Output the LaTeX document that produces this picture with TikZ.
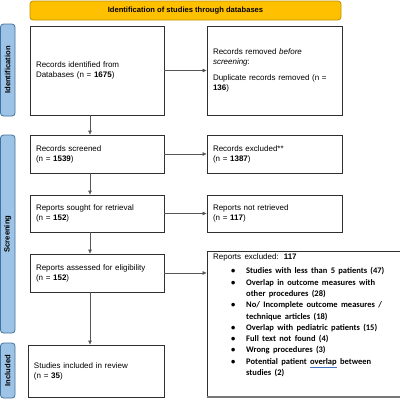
\documentclass[tikz,border=0pt]{standalone}
\usepackage{fontspec}
\setmainfont{Liberation Sans}
\newfontfamily\calibri{Carlito}
\usetikzlibrary{arrows.meta}
\definecolor{banner}{HTML}{FFC000}
\definecolor{bannerd}{HTML}{BF9000}
\definecolor{side}{HTML}{9DC3E6}
\definecolor{sided}{HTML}{41719C}
\definecolor{boxc}{HTML}{2F2F2F}
\definecolor{arrc}{HTML}{555555}
\definecolor{ulblue}{HTML}{4472C4}
\newcommand\bitem[1]{\par\hangindent=33pt\hangafter=1\noindent\hspace*{18pt}\makebox[15pt][l]{\textbullet}#1}
\begin{document}
\begin{tikzpicture}[x=1pt,y=-1pt,
  box/.style={draw=boxc, line width=0.9pt, inner xsep=6pt, inner ysep=0pt, align=left, font=\fontsize{8}{10}\selectfont},
  sidelab/.style={draw=sided, fill=side, rounded corners=3pt, line width=0.8pt, rotate=90, inner sep=0pt, font=\bfseries\fontsize{7.6}{8}\selectfont},
  arr/.style={draw=arrc, line width=0.6pt, -{Triangle[length=4pt,width=3.5pt]}}
]
\useasboundingbox (0,0) rectangle (400,400);
% banner
\node[draw=bannerd, fill=banner, rounded corners=3pt, line width=0.8pt, minimum width=311pt, minimum height=19pt, inner sep=0pt, font=\bfseries\fontsize{7.6}{9}\selectfont] (banner) at (185.5,10.5) {Identification of studies through databases};
% side labels
\node[sidelab, minimum width=92pt, minimum height=14.5pt] (sid) at (7.75,70) {Identification};
\node[sidelab, minimum width=198pt, minimum height=14.5pt] (sscr) at (7.75,234) {Screening};
\node[sidelab, minimum width=55pt, minimum height=14.5pt] (sinc) at (7.75,370.5) {Included};
% left boxes
\node[box, minimum width=134pt, minimum height=89pt, text width=122pt] (ident) at (97,70.5) {Records identified from\\Databases (n = \textbf{1675})};
\node[box, minimum width=134pt, minimum height=38pt, text width=122pt] (screen) at (97,154) {Records screened\\(n = \textbf{1539})};
\node[box, minimum width=134pt, minimum height=37pt, text width=122pt] (sought) at (97,213.5) {Reports sought for retrieval\\(n = \textbf{152})};
\node[box, minimum width=134pt, minimum height=38pt, text width=122pt] (assess) at (97,273) {Reports assessed for eligibility\\(n = \textbf{152})};
\node[box, minimum width=136pt, minimum height=52pt, text width=124pt] (incl) at (96,371) {Studies included in review\\(n = \textbf{35})};
% right boxes
\node[box, minimum width=135pt, minimum height=89pt, text width=123pt] (removed) at (274.5,70.5) {Records removed \textit{before}\\\textit{screening}:\\[6pt]Duplicate records removed (n =\\\textbf{136})};
\node[box, minimum width=135pt, minimum height=38pt, text width=123pt] (excl) at (274.5,154) {Records excluded**\\(n = \textbf{1387})};
\node[box, minimum width=135pt, minimum height=37pt, text width=123pt] (notret) at (274.5,213.5) {Reports not retrieved\\(n = \textbf{117})};
\node[draw=boxc, line width=0.9pt, minimum width=196pt, minimum height=146pt, inner sep=0pt] (repexc) at (305,324) {};
\draw[draw=arrc!80, line width=2pt] (repexc.south west) -- (repexc.south east);
\node[anchor=north west, inner sep=0pt, text width=185pt, align=left] (exctext) at (213,253.5) {%
{\fontsize{8}{10}\selectfont Reports excluded: \textbf{117}}\par\vspace{3pt}
{\calibri\bfseries\fontsize{8.5}{11.3}\selectfont
\bitem{Studies with less than 5 patients (47)}
\bitem{Overlap in outcome measures with\newline other procedures (28)}
\bitem{No/ Incomplete outcome measures /\newline technique articles (18)}
\bitem{Overlap with pediatric patients (15)}
\bitem{Full text not found (4)}
\bitem{Wrong procedures (3)}
\bitem{Potential patient \textcolor{ulblue}{\underline{\textcolor{black}{overlap}}} between\newline studies (2)}\par}};
% arrows
\coordinate (vx) at (90,0);
\draw[arr] (ident.south -| vx) -- (screen.north -| vx);
\draw[arr] (screen.south -| vx) -- (sought.north -| vx);
\draw[arr] (sought.south -| vx) -- (assess.north -| vx);
\draw[arr] (assess.south -| vx) -- (incl.north -| vx);
\draw[arr] (ident.east) -- (removed.west |- ident.east);
\draw[arr] (screen.east) -- (excl.west |- screen.east);
\draw[arr] (sought.east) -- (notret.west |- sought.east);
\draw[arr] (assess.east) -- (repexc.west |- assess.east);
\end{tikzpicture}
\end{document}
